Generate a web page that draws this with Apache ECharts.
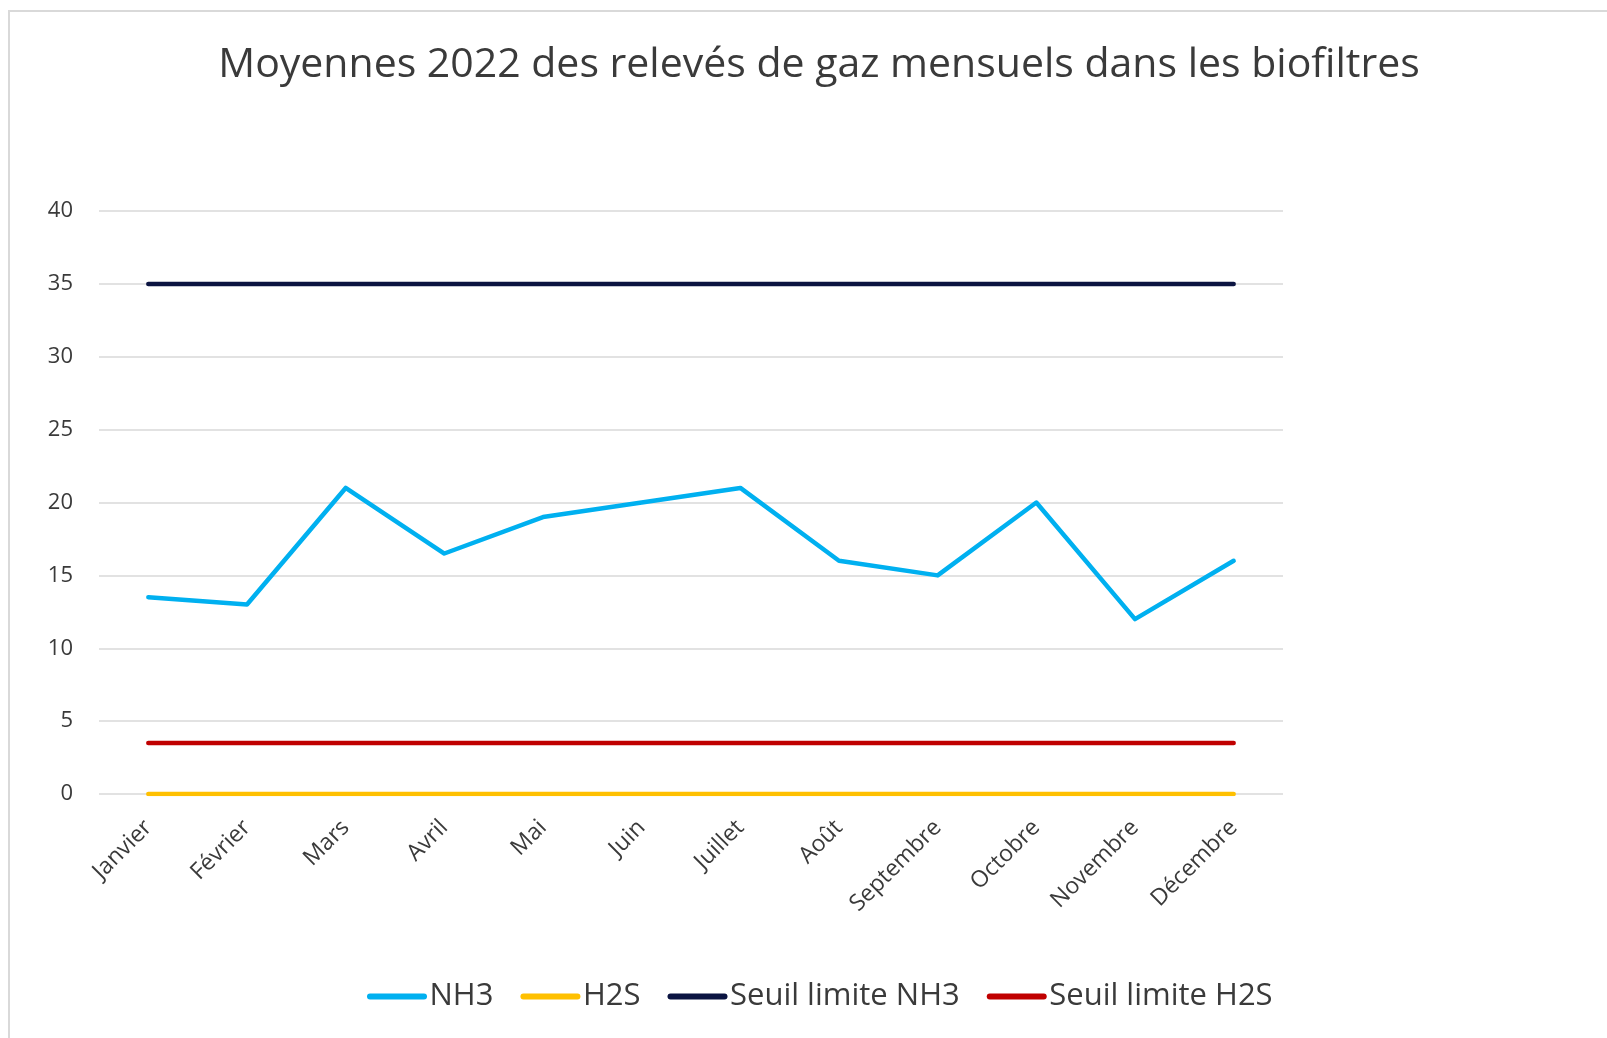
<!DOCTYPE html>
<html>
<head>
<meta charset="utf-8">
<title>Moyennes 2022 gaz biofiltres</title>
<script src="https://cdn.jsdelivr.net/npm/echarts@6/dist/echarts.min.js"></script>
<style>
  html, body { margin: 0; padding: 0; background: #fff; }
  #chart { width: 1607px; height: 1038px; }
</style>
</head>
<body>
<div id="chart"></div>
<script>
// donnees
var mois = ['Janvier', 'Février', 'Mars', 'Avril', 'Mai', 'Juin', 'Juillet', 'Août', 'Septembre', 'Octobre', 'Novembre', 'Décembre'];
var nh3 = [13.5, 13, 21, 16.5, 19, 20, 21, 16, 15, 20, 12, 16];
var h2s = [0, 0, 0, 0, 0, 0, 0, 0, 0, 0, 0, 0];
var seuilNH3 = [35, 35, 35, 35, 35, 35, 35, 35, 35, 35, 35, 35];
var seuilH2S = [3.5, 3.5, 3.5, 3.5, 3.5, 3.5, 3.5, 3.5, 3.5, 3.5, 3.5, 3.5];

var police = '"Open Sans", sans-serif';
var capsule = 'path://M3,0 L57,0 A3,3 0 0 1 57,6 L3,6 A3,3 0 0 1 3,0 Z';

function serie(nom, data, couleur) {
  return {
    name: nom,
    type: 'line',
    data: data,
    symbol: 'none',
    color: couleur,
    lineStyle: { width: 4.5, color: couleur, cap: 'round', join: 'round' },
    emphasis: { disabled: true },
    animation: false
  };
}

var chart = echarts.init(document.getElementById('chart'));
chart.setOption({
  backgroundColor: '#fff',
  graphic: [{
    type: 'rect',
    z: -10,
    shape: { x: 9, y: 11, width: 1700, height: 1100 },
    style: { fill: 'none', stroke: '#d9d9d9', lineWidth: 2 }
  }],
  title: {
    text: 'Moyennes 2022 des relevés de gaz mensuels dans les biofiltres',
    left: 814,
    textAlign: 'center',
    top: 40,
    textStyle: { fontFamily: police, fontSize: 41, fontWeight: 'normal', color: '#3a3a3a' }
  },
  legend: {
    left: 362,
    top: 976,
    itemWidth: 61,
    itemHeight: 6,
    itemGap: 27,
    icon: capsule,
    textStyle: { fontFamily: police, fontSize: 31, color: '#3a3a3a', padding: [0, 0, 0, -3] },
    data: ['NH3', 'H2S', 'Seuil limite NH3', 'Seuil limite H2S']
  },
  grid: { left: 99, right: 324, top: 211, bottom: 244, containLabel: false },
  xAxis: {
    type: 'category',
    data: mois,
    boundaryGap: true,
    axisLine: { show: false },
    axisTick: { show: false },
    axisLabel: { rotate: 45, margin: 30, fontFamily: police, fontSize: 23, color: '#3a3a3a', interval: 0 }
  },
  yAxis: {
    type: 'value',
    min: 0,
    max: 40,
    interval: 5,
    axisLine: { show: false },
    axisTick: { show: false },
    axisLabel: { margin: 26, fontFamily: police, fontSize: 22, color: '#3a3a3a' },
    splitLine: { lineStyle: { color: '#d9d9d9', width: 1.5 } }
  },
  series: [
    serie('NH3', nh3, '#00B0F0'),
    serie('H2S', h2s, '#FFC000'),
    serie('Seuil limite NH3', seuilNH3, '#0B1441'),
    serie('Seuil limite H2S', seuilH2S, '#C00000')
  ]
});
</script>
</body>
</html>
